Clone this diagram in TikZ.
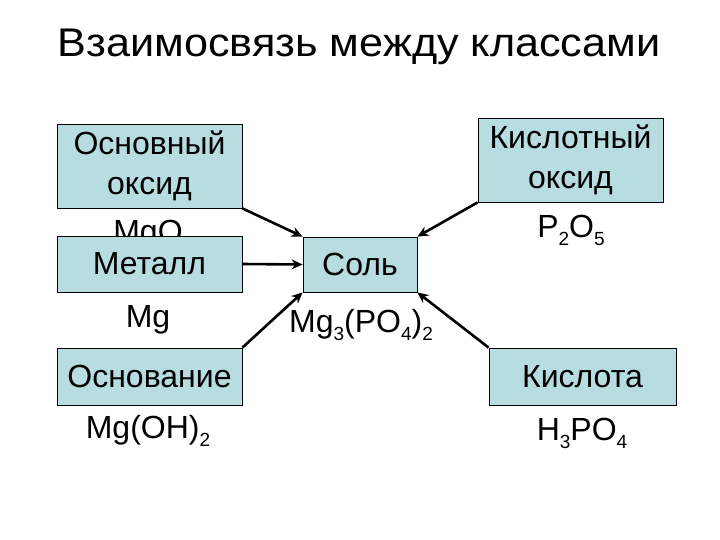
\documentclass[tikz,border=0pt]{standalone}
\usepackage{fontspec}
\setmainfont{Liberation Sans}
\usetikzlibrary{arrows.meta}
\definecolor{boxfill}{RGB}{183,221,224}
\newcommand{\lowsub}[1]{\raisebox{-8pt}{\fontsize{19}{19}\selectfont #1}}
\tikzset{
  cbox/.style={draw=black, line width=0.8pt, fill=boxfill, inner sep=0pt, align=center,
    font=\fontsize{32}{40}\selectfont},
  formula/.style={anchor=base, inner sep=0pt, font=\fontsize{32}{36}\selectfont},
  link/.style={line width=2.6pt, -{Stealth[length=11pt,width=10pt]}}
}
\begin{document}
\begin{tikzpicture}[x=1pt,y=-1pt]
\useasboundingbox (0,0) rectangle (720,540);
\node[anchor=base, inner sep=0pt, font=\fontsize{40}{44}\selectfont] (title) at (359,57) {\scalebox{1.08}[1]{Взаимосвязь между классами}};
% formulas below boxes (MgO drawn first; covered partially by Металл)
\node[formula] (mgo) at (148,243) {MgO};
\node[cbox, minimum width=185pt, minimum height=84pt] (bo) at (149.5,166) {Основный\\оксид};
\node[cbox, minimum width=185pt, minimum height=56pt] (met) at (149.5,264) {Металл};
\node[formula] (mg) at (148,327) {Mg};
\node[cbox, minimum width=185pt, minimum height=57pt] (osn) at (149.5,376.5) {Основание};
\node[formula] (mgoh) at (148,438) {Mg(OH)\lowsub{2}};
\node[cbox, minimum width=114pt, minimum height=55pt] (sol) at (360,264.5) {Соль};
\node[formula] (salt) at (361,332) {Mg\lowsub{3}(PO\lowsub{4})\lowsub{2}};
\node[cbox, minimum width=185pt, minimum height=84pt] (ko) at (570.5,160) {Кислотный\\оксид};
\node[formula] (p2o5) at (571,237) {P\lowsub{2}O\lowsub{5}};
\node[cbox, minimum width=187pt, minimum height=57pt] (kis) at (582.5,376.5) {Кислота};
\node[formula] (h3po4) at (582,440) {H\lowsub{3}PO\lowsub{4}};
% connectors
\draw[link] (bo.south east) -- (sol.north west);
\draw[link] (met.east) -- (sol.west);
\draw[link] (osn.north east) -- (sol.south west);
\draw[link] (ko.south west) -- (sol.north east);
\draw[link] (kis.north west) -- (sol.south east);
\end{tikzpicture}
\end{document}
